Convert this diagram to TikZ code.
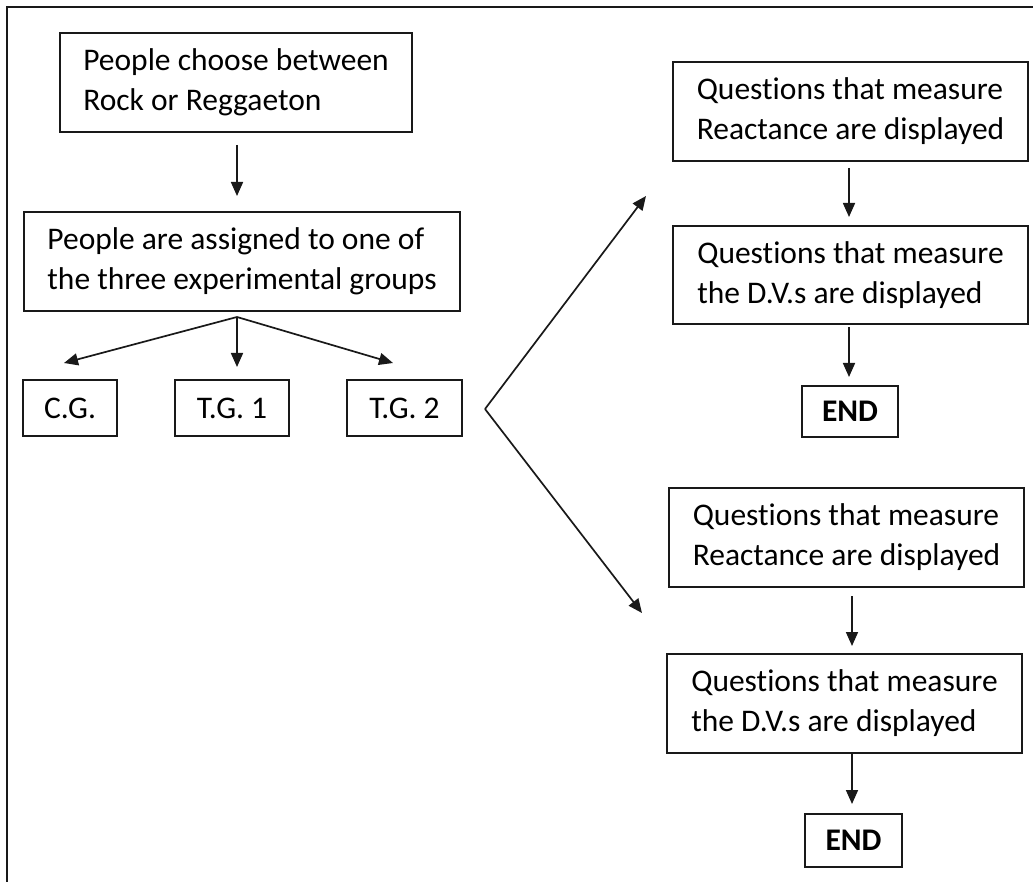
\documentclass[tikz,border=0pt]{standalone}
\usepackage{fontspec}
\setmainfont[Ligatures={NoCommon}]{Carlito}
\usetikzlibrary{arrows.meta}
\tikzset{
  box/.style={draw=black!90, line width=2pt, align=left, inner sep=0pt,
              font=\fontsize{31.5}{40}\selectfont},
  endbox/.style={box, font=\fontsize{31.5}{40}\selectfont\bfseries},
  arr/.style={draw=black!90, line width=1.7pt, -{Triangle[length=14pt,width=12pt]}},
  frame/.style={line width=2.2pt, black!90}
}
\begin{document}
\begin{tikzpicture}[x=1pt,y=-1pt]
\useasboundingbox (0,0) rectangle (1033,882);
\draw[frame] (7,882) -- (7,7) -- (1033,7);

% left column
\node[box, minimum width=352pt, minimum height=99pt] (b1) at (236,82.5)
  {People choose between\\Rock or Reggaeton};
\node[box, minimum width=436pt, minimum height=99pt] (b2) at (242,261.5)
  {People are assigned to one of\\the three experimental groups};
\node[box, minimum width=94pt, minimum height=56pt] (cg) at (70,408) {C.G.};
\node[box, minimum width=114pt, minimum height=56pt] (tg1) at (232,408) {T.G. 1};
\node[box, minimum width=115pt, minimum height=56pt] (tg2) at (404.5,408) {T.G. 2};

% upper right column
\node[box, minimum width=355pt, minimum height=99pt] (qa) at (850.5,111.5)
  {Questions that measure\\Reactance are displayed};
\node[box, minimum width=355pt, minimum height=98pt] (qb) at (850.5,275)
  {Questions that measure\\the D.V.s are displayed};
\node[endbox, minimum width=96pt, minimum height=51pt] (end1) at (850,411.5) {END};

% lower right column
\node[box, minimum width=355pt, minimum height=99pt] (qc) at (846.5,537.5)
  {Questions that measure\\Reactance are displayed};
\node[box, minimum width=355pt, minimum height=99pt] (qd) at (844.5,703.5)
  {Questions that measure\\the D.V.s are displayed};
\node[endbox, minimum width=97pt, minimum height=53pt] (end2) at (853.5,840.5) {END};

% connectors, left
\draw[arr, shorten <=12pt, shorten >=15pt] ([xshift=1pt]b1.south) -- ([xshift=-5pt]b2.north);
\coordinate (fork) at ([xshift=-5pt,yshift=-5pt]b2.south);
\draw[arr] (fork) -- ([xshift=-6pt,yshift=16pt]cg.north);
\draw[arr] (fork) -- ([xshift=5pt,yshift=12pt]tg1.north);
\draw[arr] (fork) -- ([xshift=-11.5pt,yshift=16pt]tg2.north);

% chevron
\coordinate (apex) at ([xshift=22pt,yshift=-1pt]tg2.east);
\coordinate (tipup) at ([xshift=-26pt,yshift=-34pt]qa.south west);
\coordinate (tipdown) at ([xshift=-26pt,yshift=-25pt]qc.south west);
\draw[arr] (apex) -- (tipup);
\draw[arr] (apex) -- (tipdown);

% connectors, right
\draw[arr, shorten <=6pt, shorten >=8pt] ([xshift=-1.5pt]qa.south) -- ([xshift=-1.5pt]qb.north);
\draw[arr, shorten <=2pt, shorten >=8pt] ([xshift=-1.5pt]qb.south) -- ([xshift=-1pt]end1.north);
\draw[arr, shorten <=8pt, shorten >=7pt] ([xshift=5.5pt]qc.south) -- ([xshift=7.5pt]qd.north);
\draw[arr, shorten >=9pt] ([xshift=7.5pt]qd.south) -- ([xshift=-1.5pt]end2.north);
\end{tikzpicture}
\end{document}
